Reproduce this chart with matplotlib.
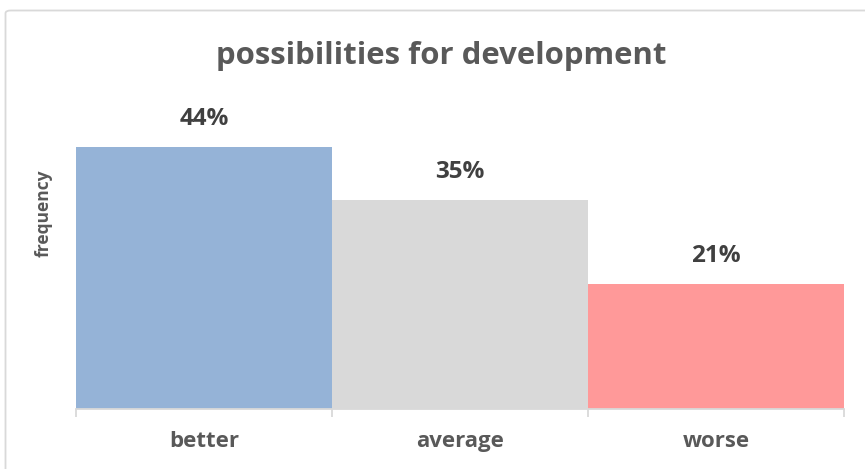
import matplotlib
matplotlib.use("Agg")
import matplotlib.pyplot as plt
from matplotlib.patches import FancyBboxPatch
import numpy as np

categories = ["better", "average", "worse"]
shares = [0.44, 0.35, 0.21]
share_labels = ["44%", "35%", "21%"]
bar_colors = ["#95B3D7", "#D9D9D9", "#FF9999"]

title_text = "possibilities for development"
ylabel_text = "frequency"

FONT = "Open Sans"
TEXT_GREY = "#595959"
LABEL_DARK = "#404040"
AXIS_GREY = "#D9D9D9"

W, H = 865, 469
DPI = 100
PX = 72 / DPI  # one pixel in points

fig = plt.figure(figsize=(W / DPI, H / DPI), dpi=DPI)
fig.patch.set_facecolor("white")

# chart-area frame (left and top edges sit inside the canvas)
frame = FancyBboxPatch((5.5 / W, -20 / H), (W + 20) / W, (H - 10.5 + 20) / H,
                       boxstyle="round,pad=0,rounding_size=0.006",
                       transform=fig.transFigure, facecolor="none",
                       edgecolor="#D9D9D9", linewidth=1.3)
fig.patches.append(frame)

ax_left, ax_right, ax_bottom, ax_top = 76, 844, 408.5, 111
ax = fig.add_axes([ax_left / W, (H - ax_bottom) / H,
                   (ax_right - ax_left) / W, (ax_bottom - ax_top) / H])

x = np.arange(len(categories))
ax.bar(x, shares, width=1.0, color=bar_colors, edgecolor="none", zorder=2)
ax.set_xlim(-0.5, len(categories) - 0.5)
ax.set_ylim(0, 0.5)

for xi, v, lab in zip(x, shares, share_labels):
    ax.annotate(lab, (xi, v), xytext=(0, 28 * PX), textcoords="offset points",
                ha="center", va="center", fontsize=17.5, fontweight="bold",
                family=FONT, color=LABEL_DARK)

for side in ["left", "right", "top"]:
    ax.spines[side].set_visible(False)
ax.spines["bottom"].set_color(AXIS_GREY)
ax.spines["bottom"].set_linewidth(1.3)
ax.set_yticks([])

# tick marks on category boundaries, labels at centers
ax.set_xticks(np.arange(-0.5, len(categories)), minor=False)
ax.set_xticklabels([])
ax.tick_params(axis="x", which="major", length=8 * PX, width=1.3, color=AXIS_GREY)
ax.set_xticks(x, minor=True)
ax.set_xticklabels(categories, minor=True)
ax.tick_params(axis="x", which="minor", length=0, pad=22 * PX)
for t in ax.get_xticklabels(minor=True):
    t.set_fontsize(16)
    t.set_fontweight("bold")
    t.set_family(FONT)
    t.set_color(TEXT_GREY)

fig.text(441 / W, 1 - 56 / H, title_text, ha="center", va="center",
         fontsize=22.4, fontweight="bold", family=FONT, color=TEXT_GREY)
fig.text(44 / W, 1 - 213 / H, ylabel_text, ha="center", va="center",
         rotation=90, fontsize=12.5, fontweight="bold", family=FONT,
         color=TEXT_GREY)

fig.savefig("out.png", dpi=DPI, facecolor="white")
